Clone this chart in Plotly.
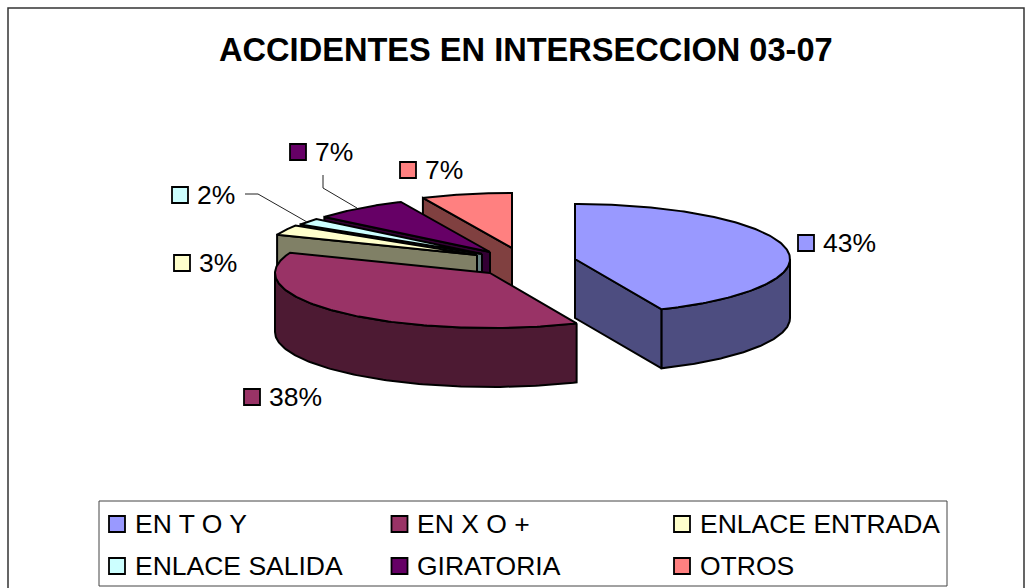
import numpy as np
import plotly.graph_objects as go

# --- data ---
TITLE = "ACCIDENTES EN INTERSECCION 03-07"
CATEGORIES = ["EN T O Y", "EN X O +", "ENLACE ENTRADA", "ENLACE SALIDA", "GIRATORIA", "OTROS"]
VALUES = [43.4, 37.6, 3.0, 2.0, 7.2, 6.8]

# --- styles ---
TOP_COLORS = ["#9999FF", "#993366", "#FFFFCC", "#CCFFFF", "#660066", "#FF8080"]
SIDE_COLORS = ["#4D4D80", "#4D1A33", "#808066", "#668080", "#330033", "#804040"]
FONT = "Liberation Sans"

# --- layout of the exploded 3D pie, in page pixels ---
W, H = 1033, 588
APEX = [(575, 259), (490, 273), (477, 255), (482, 254), (490, 252), (512, 248)]
RX = 215
RY = 55
DEPTH = 59
DRAW_ORDER = [5, 4, 3, 2, 1, 0]
LABEL_MARKERS = [(806, 243), (252, 397), (182, 263), (180, 195), (298, 152), (408, 170)]
LEGEND_MARKERS = [(117, 524), (399.5, 524), (682, 524), (117, 566), (399.5, 566), (682, 566)]
LEADERS = [[(245, 194), (258, 194), (307, 222)], [(323, 175), (323, 188), (357, 208)]]


def project(i, deg):
    r = np.radians(deg)
    return APEX[i][0] + RX * np.sin(r), APEX[i][1] - RY * np.cos(r)


fig = go.Figure()


def poly(xs, ys, fill):
    fig.add_trace(go.Scatter(
        x=list(xs), y=list(ys), mode="lines", fill="toself", fillcolor=fill,
        line=dict(color="black", width=2), hoverinfo="skip", showlegend=False))


shares = np.array(VALUES, dtype=float) / sum(VALUES) * 360
ends = np.cumsum(shares)
starts = ends - shares

for i in DRAW_ORDER:
    a0, a1 = starts[i], ends[i]
    ax, ay = APEX[i]
    # radial walls facing the viewer
    for a, normal in ((a0, a0 - 90), (a1, a1 + 90)):
        if np.cos(np.radians(normal)) < -1e-6:
            ox, oy = project(i, a)
            poly([ax, ox, ox, ax, ax], [ay, oy, oy + DEPTH, ay + DEPTH, ay], SIDE_COLORS[i])
    # outer curved wall, front half only
    lo, hi = max(a0, 90), min(a1, 270)
    if hi > lo:
        t = np.linspace(lo, hi, 120)
        cx, cy = project(i, t)
        poly(np.r_[cx, cx[::-1], cx[0]], np.r_[cy, cy[::-1] + DEPTH, cy[0]], SIDE_COLORS[i])
    # top face
    t = np.linspace(a0, a1, 160)
    cx, cy = project(i, t)
    poly(np.r_[ax, cx, ax], np.r_[ay, cy, ay], TOP_COLORS[i])

# leader lines
for pts in LEADERS:
    fig.add_trace(go.Scatter(
        x=[p[0] for p in pts], y=[p[1] for p in pts], mode="lines",
        line=dict(color="#222222", width=1), hoverinfo="skip", showlegend=False))

# square keys for data labels and legend
for positions in (LABEL_MARKERS, LEGEND_MARKERS):
    fig.add_trace(go.Scatter(
        x=[p[0] for p in positions], y=[p[1] for p in positions], mode="markers",
        marker=dict(symbol="square", size=16, color=TOP_COLORS, line=dict(color="black", width=1.8)),
        hoverinfo="skip", showlegend=False))

annotations = [dict(x=W / 2 + 9.5, y=49, text=f"<b>{TITLE}</b>", showarrow=False, xanchor="center",
                    yanchor="middle", font=dict(family=FONT, size=32.6, color="black"))]
for (mx, my), v in zip(LABEL_MARKERS, VALUES):
    annotations.append(dict(x=mx + 15, y=my, text=f"{round(v)}%", showarrow=False, xanchor="left",
                            yanchor="middle",
                            font=dict(family=FONT, size=26.5, color="black")))
for (mx, my), name in zip(LEGEND_MARKERS, CATEGORIES):
    annotations.append(dict(x=mx + 15.5, y=my, text=name, showarrow=False, xanchor="left",
                            yanchor="middle",
                            font=dict(family=FONT, size=26.5, color="black")))

shapes = [
    dict(type="rect", x0=8, y0=8, x1=1024, y1=600, line=dict(color="#333333", width=1.5), layer="below"),
    dict(type="rect", x0=99, y0=501, x1=947, y1=586, line=dict(color="#444444", width=1), layer="below"),
]

fig.update_layout(
    width=W, height=H, margin=dict(l=0, r=0, t=0, b=0),
    paper_bgcolor="white", plot_bgcolor="white",
    xaxis=dict(range=[0, W], visible=False, fixedrange=True),
    yaxis=dict(range=[H, 0], visible=False, fixedrange=True),
    annotations=annotations, shapes=shapes, showlegend=False,
)

fig.write_html("out.html", config={"displayModeBar": False},
               post_script="document.body.style.margin='0';document.body.style.overflow='hidden';")
